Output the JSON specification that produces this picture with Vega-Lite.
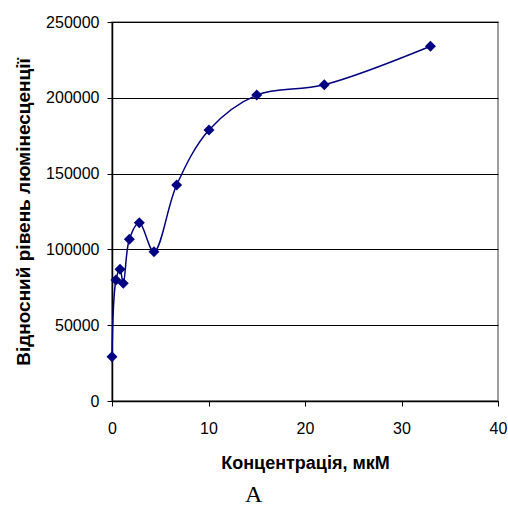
{
  "$schema": "https://vega.github.io/schema/vega-lite/v6.json",
  "width": 386,
  "height": 379,
  "autosize": {"type": "none"},
  "padding": {"left": 112, "top": 22, "right": 10, "bottom": 106},
  "background": "white",
  "config": {
    "view": {"stroke": "#808080", "strokeWidth": 1.5},
    "font": "Liberation Sans"
  },
  "title": {
    "text": "A",
    "orient": "bottom",
    "anchor": "middle",
    "frame": "bounds",
    "font": "Liberation Serif",
    "fontSize": 24,
    "fontWeight": "normal",
    "color": "#000000",
    "offset": 11,
    "dx": -7
  },
  "data": {
    "values": [
      {"x": 0, "y": 29200},
      {"x": 0.41, "y": 79800},
      {"x": 0.83, "y": 86900},
      {"x": 1.17, "y": 77600},
      {"x": 1.8, "y": 106700},
      {"x": 2.83, "y": 117600},
      {"x": 4.35, "y": 98500},
      {"x": 6.7, "y": 142500},
      {"x": 10.05, "y": 178800},
      {"x": 15.0, "y": 201800},
      {"x": 22.0, "y": 208600},
      {"x": 33.0, "y": 234000}
    ]
  },
  "encoding": {
    "x": {
      "field": "x",
      "type": "quantitative",
      "scale": {"domain": [0, 40], "nice": false, "zero": false},
      "axis": {
        "title": "Концентрація, мкМ",
        "values": [0, 10, 20, 30, 40],
        "grid": false,
        "labelFlush": false,
        "domainColor": "#000000",
        "domainWidth": 1.5,
        "tickColor": "#000000",
        "tickSize": 5,
        "labelFontSize": 16,
        "labelColor": "#000000",
        "labelPadding": 14,
        "titleFontSize": 18,
        "titleFontWeight": "bold",
        "titleColor": "#000000",
        "titlePadding": 18
      }
    },
    "y": {
      "field": "y",
      "type": "quantitative",
      "scale": {"domain": [0, 250000], "nice": false},
      "axis": {
        "title": "Відносний рівень люмінесценції",
        "values": [0, 50000, 100000, 150000, 200000, 250000],
        "format": "d",
        "grid": true,
        "labelFlush": false,
        "gridColor": "#000000",
        "gridWidth": 1,
        "domainColor": "#000000",
        "domainWidth": 1.5,
        "tickColor": "#000000",
        "tickSize": 5,
        "labelFontSize": 16,
        "labelColor": "#000000",
        "labelPadding": 8,
        "titleFontSize": 19,
        "titleFontWeight": "bold",
        "titleColor": "#000000",
        "titlePadding": 12
      }
    }
  },
  "layer": [
    {
      "mark": {"type": "line", "interpolate": "catmull-rom", "color": "#000080", "strokeWidth": 1.5}
    },
    {
      "mark": {"type": "point", "shape": "diamond", "filled": true, "color": "#000080", "size": 120, "opacity": 1}
    }
  ]
}
